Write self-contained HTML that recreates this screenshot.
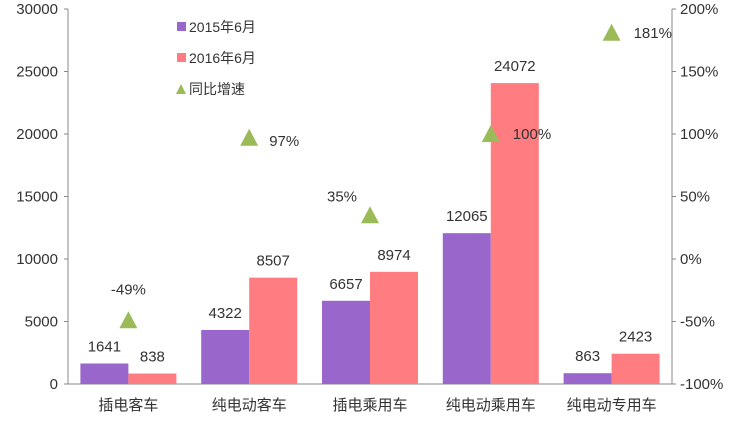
<!DOCTYPE html>
<html><head><meta charset="utf-8"><style>
body{margin:0;background:#fff}
svg text{font-family:"Liberation Sans","Noto Sans CJK SC",sans-serif;fill:#333}
</style></head><body>
<svg width="739" height="416" id="c"></svg>
<script>
const categories=["插电客车","纯电动客车","插电乘用车","纯电动乘用车","纯电动专用车"];
const s2015=[1641,4322,6657,12065,863];
const s2016=[838,8507,8974,24072,2423];
const growth=[-49,97,35,100,181];
const leftTicks=[0,5000,10000,15000,20000,25000,30000];
const rightTicks=[-100,-50,0,50,100,150,200];
const NS="http://www.w3.org/2000/svg",svg=document.getElementById('c');
const x0=68,x1=672,yTop=9,yBot=384;
const yL=v=>yBot-(v/30000)*(yBot-yTop);
const yR=v=>yBot-((v+100)/300)*(yBot-yTop);
const gw=(x1-x0)/categories.length;
function el(t,a,txt){const e=document.createElementNS(NS,t);for(const k in a)e.setAttribute(k,a[k]);if(txt!=null)e.textContent=txt;svg.appendChild(e);return e;}
let e;
e=el('line',{x1:x0,y1:yTop,x2:x0,y2:yBot,stroke:'#888'});


e=el('line',{x1:x1,y1:yTop,x2:x1,y2:yBot,stroke:'#888'});


e=el('line',{x1:x0,y1:yBot,x2:x1,y2:yBot,stroke:'#888'});


leftTicks.forEach(v=>{
 e=el('text',{x:x0-10,y:yL(v)+5,'text-anchor':'end','font-size':15},String(v));
 
 
 el('line',{x1:x0-4,y1:yL(v),x2:x0,y2:yL(v),stroke:'#888'});
});
rightTicks.forEach(v=>{
 e=el('text',{x:x1+8,y:yR(v)+5,'font-size':15},v+'%');
 
 
 el('line',{x1:x1,y1:yR(v),x2:x1+4,y2:yR(v),stroke:'#888'});
});
const bw=48;
const pctOff=[[0,-26,'middle'],[20,8,'start'],[-28,-14,'middle'],[22,5,'start'],[22,5,'start']];
categories.forEach((c,i)=>{
 const cx=x0+gw*i+gw/2;
 e=el('rect',{x:cx-bw,y:yL(s2015[i]),width:bw,height:yBot-yL(s2015[i]),fill:'#9966CC'});
 
 
 e=el('rect',{x:cx,y:yL(s2016[i]),width:bw,height:yBot-yL(s2016[i]),fill:'#FF7C80'});
 
 
 e=el('text',{x:cx-bw/2,y:yL(s2015[i])-12,'text-anchor':'middle','font-size':15},String(s2015[i]));
 
 
 e=el('text',{x:cx+bw/2,y:yL(s2016[i])-12,'text-anchor':'middle','font-size':15},String(s2016[i]));
 
 
 const ty=yR(growth[i]);
 e=el('polygon',{points:`${cx-9},${ty+8} ${cx+9},${ty+8} ${cx},${ty-9}`,fill:'#9BBB59'});
 
 
 const o=pctOff[i];
 e=el('text',{x:cx+o[0],y:ty+o[1],'text-anchor':o[2],'font-size':15},growth[i]+'%');
 
 
 e=el('text',{x:cx,y:410,'text-anchor':'middle','font-size':15,'font-family':'"Noto Serif CJK SC",serif'},c);
 
 
});
const lg=[['2015年6月','#9966CC','r'],['2016年6月','#FF7C80','r'],['同比增速','#9BBB59','t']];
lg.forEach((l,i)=>{
 const y=27+i*31;
 if(l[2]=='r')e=el('rect',{x:177,y:y-5,width:9,height:9,fill:l[1]});
 else e=el('polygon',{points:`176,${y+5} 186,${y+5} 181,${y-5}`,fill:l[1]});
 
 
 e=el('text',{x:189,y:y+5,'font-size':14},l[0]);
 
 
});
</script>
</body></html>
